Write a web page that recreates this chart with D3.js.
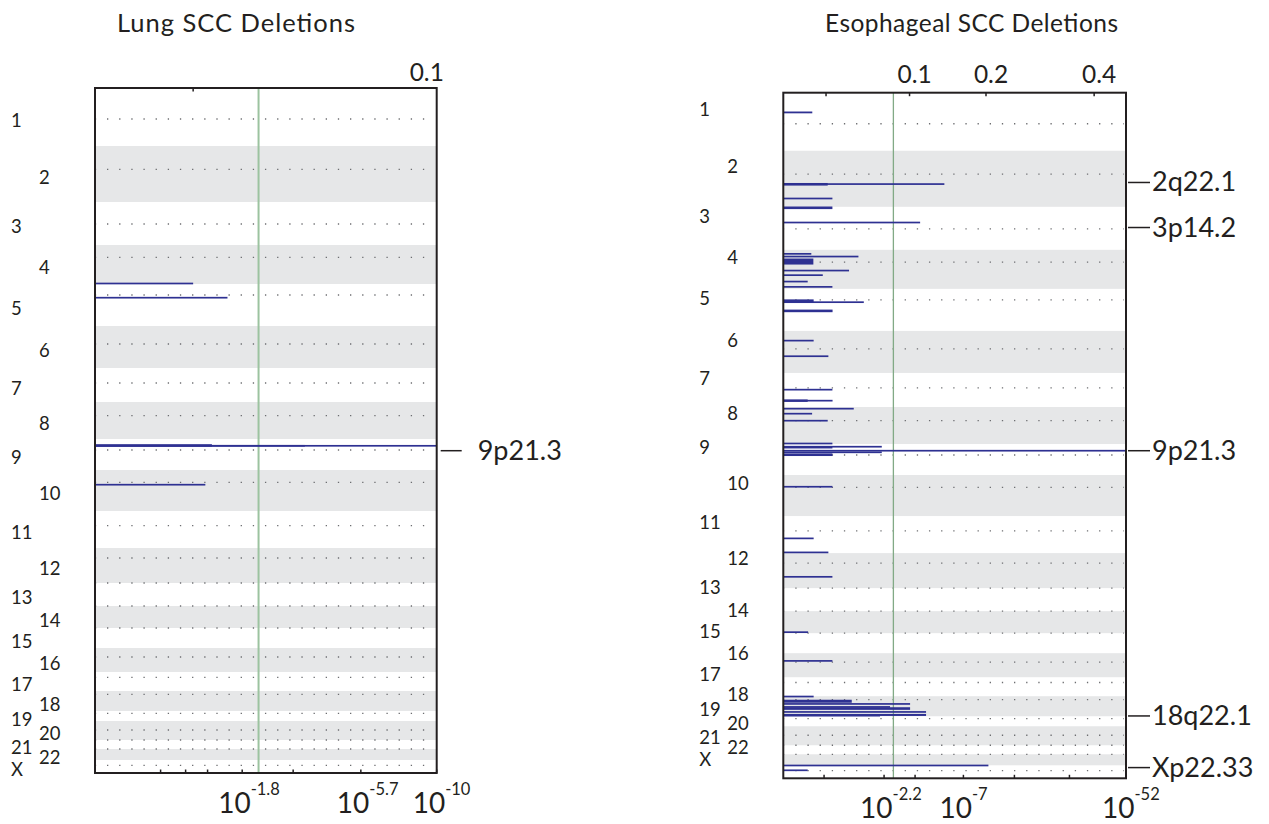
<!DOCTYPE html>
<html>
<head>
<meta charset="utf-8">
<script src="https://cdn.jsdelivr.net/npm/d3@7/dist/d3.min.js"></script>
<style>
  html, body { margin: 0; padding: 0; background: #fff; }
  svg { display: block; }
  text { font-family: "Lato", "Open Sans", sans-serif; fill: #231f20; }
</style>
</head>
<body>
<svg id="chart" width="1269" height="824"></svg>
<script>
// ---------------- DATA ----------------
const chromosomes = ["1","2","3","4","5","6","7","8","9","10","11","12","13","14","15","16","17","18","19","20","21","22","X"];
// relative genome span of each chromosome (marker units)
const chromSpan = [58,56,43,39,42,42,34,37,31,41,37,35,23,22,20,24,19,20,10,19,9,11,13];
// centromere offset inside each chromosome (same units)
const centromere = [31,23.3,22,12.3,11,18,15,13.7,11,12.3,14.7,10,0,0,0,9,5.3,3.3,2.3,9,0,0,5.3];

const lungTitle = "Lung SCC Deletions";
const escTitle = "Esophageal SCC Deletions";

// G-score domains (sqrt scale)
const lungGDomain = [0.0125, 0.106];
const escGDomain = [0.01, 0.472];

// top (G-score) axis
const lungTopTicks = [0.03];
const lungTopLabels = [0.1];
const escTopTicks = [0.03, 0.1, 0.2, 0.4];
const escTopLabels = [0.1, 0.2, 0.4];

// bottom (q-value) axis: G-score at which each q tick sits
const lungQTicks = [0.02336, 0.02839, 0.03321, 0.04157, 0.05559, 0.07735, 0.106];
const lungQLabelAt = [0.04157, 0.07735, 0.106];
const lungQLabelExp = ["-1.8", "-5.7", "-10"];
const escQTicks = [0.02884, 0.07432, 0.1061, 0.16688, 0.2459, 0.34826, 0.472];
const escQLabelAt = [0.07432, 0.16688, 0.472];
const escQLabelExp = ["-2.2", "-7", "-52"];

// significance threshold (green line), as G-score
const lungThreshold = 0.04585;
const escThreshold = 0.08327;

// deletion segments: [chromosome, offset in chromosome, span, G-score]
const lungDeletions = [
  ["4", 38.5, 1.4, 0.030],
  ["5", 13.7, 1.6, 0.0379],
  ["9", 6.4, 2.4, 0.0342],
  ["9", 6.8, 1.2, 0.0591],
  ["9", 6.8, 1.6, 0.106],
  ["10", 14.7, 1.6, 0.0327]
];
const escDeletions = [
  ["1", 19.7, 1.8, 0.0224],
  ["2", 33.5, 2.6, 0.031],
  ["2", 33.3, 1.5, 0.1413],
  ["2", 47.7, 1.5, 0.0339],
  ["3", 1.0, 2.6, 0.0339],
  ["3", 15.7, 1.6, 0.1118],
  ["4", 4.0, 1.0, 0.0219],
  ["4", 6.7, 1.3, 0.0523],
  ["4", 11.7, 6.0, 0.02295],
  ["4", 20.7, 1.5, 0.0452],
  ["4", 25.3, 1.2, 0.0281],
  ["4", 31.7, 1.5, 0.0201],
  ["4", 37.0, 1.2, 0.0339],
  ["5", 12.0, 3.0, 0.0231],
  ["5", 13.3, 1.3, 0.0566],
  ["5", 22.0, 2.6, 0.034],
  ["6", 9.7, 1.5, 0.0231],
  ["6", 25.3, 1.3, 0.0314],
  ["7", 16.7, 1.5, 0.0339],
  ["7", 27.7, 2.4, 0.0201],
  ["7", 27.7, 1.5, 0.034],
  ["8", 1.7, 1.3, 0.0487],
  ["8", 6.7, 1.3, 0.0223],
  ["8", 13.7, 1.6, 0.031],
  ["9", -0.5, 1.0, 0.0339],
  ["9", 3.6, 1.0, 0.0339],
  ["9", 2.7, 1.6, 0.0722],
  ["9", 6.7, 1.6, 0.472],
  ["9", 8.3, 1.6, 0.0722],
  ["9", 10.7, 2.6, 0.0339],
  ["10", 11.7, 1.5, 0.0339],
  ["11", 22.3, 1.5, 0.0231],
  ["11", 36.3, 1.5, 0.0314],
  ["12", 23.7, 1.5, 0.0339],
  ["14", 21.0, 1.3, 0.0203],
  ["16", 7.7, 1.5, 0.0339],
  ["18", 0.3, 1.6, 0.0231],
  ["18", 5.0, 3.0, 0.0472],
  ["18", 7.7, 1.3, 0.1006],
  ["18", 10.7, 1.3, 0.080],
  ["18", 12.3, 2.6, 0.1006],
  ["18", 15.7, 1.3, 0.1187],
  ["18", 18.7, 2.0, 0.1187],
  ["18", 19.4, 1.0, 0.0706],
  ["X", 0.2, 1.6, 0.2037],
  ["X", 5.0, 1.6, 0.0201]
];

// peak annotations: [label, chromosome, offset]
const lungPeaks = [["9p21.3", "9", 11.7]];
const escPeaks = [
  ["2q22.1", "2", 31.7],
  ["3p14.2", "3", 20.7],
  ["9p21.3", "9", 6.7],
  ["18q22.1", "18", 19.7],
  ["Xp22.33", "X", 2.3]
];

// ---------------- LAYOUT / STYLE ----------------
const svg = d3.select("#chart");

const chromStart = d3.cumsum([0, ...chromSpan.slice(0, -1)]);
const genomeLen = d3.sum(chromSpan);
const chromIndex = new Map(chromosomes.map((c, i) => [c, i]));

function drawPanel(cfg) {
  const g = svg.append("g");
  const y = d3.scaleLinear().domain([0, genomeLen]).range([cfg.y0, cfg.y1]);
  const x = d3.scaleSqrt().domain(cfg.gDomain).range([cfg.x0, cfg.x1]);
  const gy = (chr, off) => y(chromStart[chromIndex.get(chr)] + off);
  const idx = chromosomes.map((c, i) => i);

  // gray bands for even chromosomes
  g.selectAll("rect.band").data(idx.filter(i => i % 2 === 1)).join("rect")
    .attr("x", cfg.x0).attr("width", cfg.x1 - cfg.x0)
    .attr("y", i => y(chromStart[i]))
    .attr("height", i => y(chromStart[i] + chromSpan[i]) - y(chromStart[i]))
    .attr("fill", "#e6e7e8");

  // centromere dotted lines
  g.selectAll("line.cen").data(idx).join("line")
    .attr("x1", cfg.x0 + 1).attr("x2", cfg.x1 - 2)
    .attr("y1", i => y(chromStart[i] + centromere[i]))
    .attr("y2", i => y(chromStart[i] + centromere[i]))
    .attr("stroke", "#6d6e71").attr("stroke-width", 1.3)
    .attr("stroke-dasharray", "1.3,10.85").attr("stroke-dashoffset", -11);

  // threshold line
  g.append("line")
    .attr("x1", x(cfg.threshold)).attr("x2", x(cfg.threshold))
    .attr("y1", cfg.y0).attr("y2", cfg.y1)
    .attr("stroke", cfg.greenColor).attr("stroke-width", cfg.greenWidth);

  // deletion bars
  const th = d => Math.max(1.7, y(d[2]) - y(0));
  g.selectAll("rect.bar").data(cfg.bars).join("rect")
    .attr("x", cfg.x0)
    .attr("width", d => x(d[3]) - cfg.x0)
    .attr("y", d => gy(d[0], d[1]) - th(d) / 2)
    .attr("height", th)
    .attr("fill", "#2e3192");

  // frame
  g.append("rect")
    .attr("x", cfg.x0).attr("y", cfg.y0)
    .attr("width", cfg.x1 - cfg.x0).attr("height", cfg.y1 - cfg.y0)
    .attr("fill", "none").attr("stroke", "#231f20").attr("stroke-width", 2);

  // chromosome labels
  g.selectAll("text.chr").data(chromosomes).join("text")
    .attr("x", (c, i) => cfg.x0 + (i % 2 === 0 ? -84 : -56))
    .attr("y", (c, i) => y(chromStart[i] + chromSpan[i] / 2) + cfg.labelShift)
    .attr("dy", "0.36em")
    .attr("font-size", 18.5)
    .text(c => c);

  // top axis
  g.selectAll("line.tt").data(cfg.topTicks).join("line")
    .attr("x1", d => x(d)).attr("x2", d => x(d))
    .attr("y1", cfg.y0).attr("y2", cfg.y0 + 3.5)
    .attr("stroke", "#231f20").attr("stroke-width", 1.5);
  g.selectAll("text.tl").data(cfg.topLabels).join("text")
    .attr("x", d => x(d) + 5).attr("y", cfg.y0 - cfg.topLabelGap)
    .attr("text-anchor", "middle").attr("font-size", 24.5)
    .text(d => d3.format(".1f")(d));

  // bottom axis ticks
  g.selectAll("line.bt").data(cfg.qTicks).join("line")
    .attr("x1", d => x(d)).attr("x2", d => x(d))
    .attr("y1", cfg.y1).attr("y2", cfg.y1 - 3.5)
    .attr("stroke", "#231f20").attr("stroke-width", 1.5);
  const ql = g.selectAll("text.ql").data(cfg.qLabelAt).join("text")
    .attr("x", d => x(d) - 24).attr("y", cfg.y1 + cfg.bottomGap)
    .attr("font-size", 28);
  ql.append("tspan").text("10");
  ql.append("tspan")
    .attr("dx", 0).attr("dy", -18)
    .attr("font-size", 16.5)
    .text((d, i) => cfg.qLabelExp[i]);

  // peaks
  const pk = g.selectAll("g.pk").data(cfg.peaks).join("g");
  pk.append("line")
    .attr("x1", cfg.x1 + cfg.leadStart).attr("x2", cfg.x1 + cfg.leadEnd)
    .attr("y1", d => gy(d[1], d[2])).attr("y2", d => gy(d[1], d[2]))
    .attr("stroke", "#231f20").attr("stroke-width", 1.5);
  pk.append("text")
    .attr("x", cfg.x1 + cfg.textStart)
    .attr("y", d => gy(d[1], d[2]) + 9)
    .attr("font-size", 27)
    .text(d => d[0]);

  // title
  g.append("text")
    .attr("x", cfg.titleX).attr("y", 32)
    .attr("font-size", cfg.titleSize)
    .attr("textLength", cfg.titleWidth).attr("lengthAdjust", "spacing")
    .text(cfg.title);
}

drawPanel({
  title: lungTitle, titleX: 117, titleSize: 25.5, titleWidth: 238,
  x0: 95, x1: 436.7, y0: 88, y1: 773,
  gDomain: lungGDomain, threshold: lungThreshold,
  greenColor: "#9cc3a0", greenWidth: 2,
  topTicks: lungTopTicks, topLabels: lungTopLabels, topLabelGap: 7.5,
  qTicks: lungQTicks, qLabelAt: lungQLabelAt, qLabelExp: lungQLabelExp, bottomGap: 40,
  bars: lungDeletions, peaks: lungPeaks,
  labelShift: 3, leadStart: 4, leadEnd: 25, textStart: 41
});

drawPanel({
  title: escTitle, titleX: 825, titleSize: 24.5, titleWidth: 293,
  x0: 783.3, x1: 1126, y0: 92.7, y1: 778.3,
  gDomain: escGDomain, threshold: escThreshold,
  greenColor: "#82aa86", greenWidth: 1.3,
  topTicks: escTopTicks, topLabels: escTopLabels, topLabelGap: 10,
  qTicks: escQTicks, qLabelAt: escQLabelAt, qLabelExp: escQLabelExp, bottomGap: 39.5,
  bars: escDeletions, peaks: escPeaks,
  labelShift: -12, leadStart: 2, leadEnd: 24, textStart: 26
});
</script>
</body>
</html>
